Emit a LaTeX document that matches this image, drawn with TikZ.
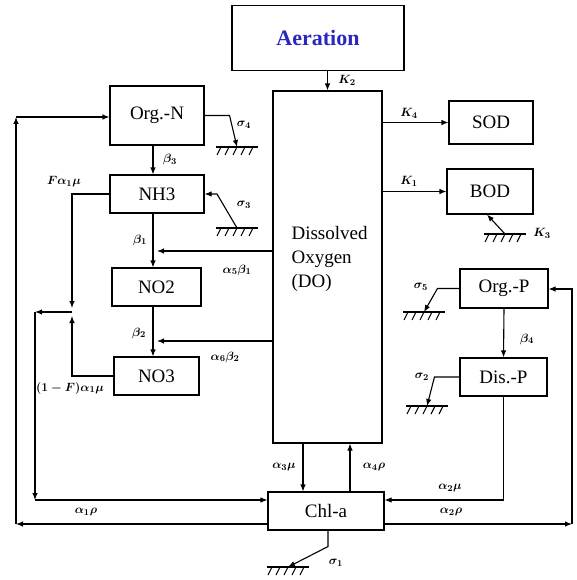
\documentclass[tikz,border=0pt]{standalone}
\usepackage{fontspec}
\setmainfont{Liberation Serif}
\usepackage{xcolor}
\usepackage{tikz}
\usetikzlibrary{
    positioning,
    arrows.meta
}

\definecolor{aerblue}{RGB}{40,40,190}

\begin{document}
\begin{tikzpicture}[
    x=1pt,
    y=-1pt,
    line width=1.1pt,
    box/.style={
        rectangle,
        draw,
        align=center,
        inner sep=0pt,
        font=\fontsize{19}{21}\selectfont
    },
    rate/.style={
        font=\boldmath\fontsize{13}{15}\selectfont,
        inner sep=0pt
    },
    arrow/.style={
        -{Latex[length=7pt,width=5.5pt]}
    },
    ground/.pic={
        \draw[line width=1.1pt] (-21,0) -- (21,0);
        \foreach \t in {-16,-8,0,8,16}
            \draw[line width=1.1pt] (\t,0) -- ++(-4,8);
    }
]

\useasboundingbox (0,0) rectangle (576,580);

% ============================================================
% OXYGEN
% ============================================================

\node[box, minimum width=172, minimum height=65,
      font=\bfseries\fontsize{22}{24}\selectfont, text=aerblue]
      (aeration) at (318,38) {Aeration};

\node[box, minimum width=109, minimum height=352] (do) at (327.5,267) {};

\node[align=left, font=\fontsize{19}{24}\selectfont,
      anchor=north west, inner sep=0pt] (dotext) at (291,226)
{
Dissolved\\
Oxygen\\
(DO)
};

\node[box, minimum width=84, minimum height=43] (sod) at (491,122.5) {SOD};
\node[box, minimum width=86, minimum height=45] (bod) at (490,191.5) {BOD};

% ============================================================
% NITROGEN
% ============================================================

\node[box, minimum width=94, minimum height=59] (orgn) at (157,115.5) {Org.-N};
\node[box, minimum width=94, minimum height=38] (nh3) at (157,194) {NH3};
\node[box, minimum width=89, minimum height=38] (no2) at (156.5,287) {NO2};
\node[box, minimum width=85, minimum height=38] (no3) at (156.5,376) {NO3};

% ============================================================
% PHOSPHORUS
% ============================================================

\node[box, minimum width=88, minimum height=39] (orgp) at (504,288.5) {Org.-P};
\node[box, minimum width=87, minimum height=38] (disp) at (503.5,377) {Dis.-P};

% ============================================================
% ALGAE
% ============================================================

\node[box, minimum width=116, minimum height=38] (chla) at (326,511) {Chl-a};

% ============================================================
% HELPER POINTS
% ============================================================

\coordinate (jb1) at (153,251);
\coordinate (jb2) at (153,341);
\coordinate (jn) at (72,312);
\coordinate (ln) at (35,312);
\coordinate (lb) at (35,500);
\coordinate (ol) at (16,524);
\coordinate (ot) at (16,117);
\coordinate (orr) at (572,524);
\coordinate (ort) at (572,289);
\coordinate (pb) at (505,500);

\coordinate (g4) at (237,147);
\coordinate (g3) at (237,228);
\coordinate (gk) at (505,234);
\coordinate (g5) at (424,312);
\coordinate (g2) at (427,406);
\coordinate (g1) at (288,567);

\pic at (g4) {ground};
\pic at (g3) {ground};
\pic at (gk) {ground};
\pic at (g5) {ground};
\pic at (g2) {ground};
\pic at (g1) {ground};

% ============================================================
% CONNECTIONS
% ============================================================

\draw[arrow] (do.north |- aeration.south) -- (do.north);
\draw[arrow] (do.east |- sod) -- (sod.west);
\draw[arrow] (do.east |- bod) -- (bod.west);
\draw[arrow] (gk) -- ([xshift=-3pt]bod.south);

\draw[arrow] ([xshift=-4pt]orgn.south) -- ([xshift=-4pt]nh3.north);
\draw[arrow] ([xshift=-4pt]nh3.south) -- ([xshift=-3.5pt]no2.north);
\draw[arrow] ([xshift=-3.5pt]no2.south) -- ([xshift=-3.5pt]no3.north);
\draw[arrow] (do.west |- jb1) -- ([xshift=4pt]jb1);
\draw[arrow] (do.west |- jb2) -- ([xshift=4pt]jb2);

\draw[arrow] (orgn.east) -- ++(25,0) -- (g4);
\draw[arrow] (g3) -- ++(-20,-34) -- (nh3.east);

\draw[arrow] (nh3.west) -| ([yshift=4pt]jn);
\draw[arrow] (no3.west) -| ([yshift=-4pt]jn);
\draw[arrow] (jn) -- (ln);
\draw[arrow] (ln) -- (lb);
\draw[arrow] (lb) -- (chla.west |- lb);

\draw[arrow] (chla.west |- ol) -- (ol);
\draw[arrow] (ol) -- (ot);
\draw[arrow] (ot) -- (orgn.west |- ot);

\draw[arrow] (chla.east |- orr) -- (orr);
\draw[arrow] (orr) -- (ort) -- (orgp.east |- ort);

\draw[arrow] (orgp.south) -- (disp.north);
\draw[arrow] (orgp.west) -- ++(-22,0) -- (g5);
\draw[arrow] (disp.west) -- ++(-25,0) -- (g2);
\draw[arrow] (disp.south) |- (chla.east |- pb);

\draw[arrow] ([xshift=-23pt]chla.north |- do.south) -- ([xshift=-23pt]chla.north);
\draw[arrow] ([xshift=24pt]chla.north) -- ([xshift=24pt]chla.north |- do.south);
\draw[arrow] ([xshift=2pt]chla.south) -- ++(0,16) -- (g1);

% ============================================================
% RATE LABELS
% ============================================================

\node[rate] (lk2) at (347,80) {$K_2$};
\node[rate] (lk4) at (409,113) {$K_4$};
\node[rate] (lk1) at (409,181) {$K_1$};
\node[rate] (lk3) at (542,233) {$K_3$};

\node[rate] (ls4) at (244,125) {$\sigma_4$};
\node[rate] (ls3) at (244,205) {$\sigma_3$};
\node[rate] (ls5) at (421,287) {$\sigma_5$};
\node[rate] (ls2) at (422,377) {$\sigma_2$};
\node[rate] (ls1) at (336,563) {$\sigma_1$};

\node[rate] (lb3) at (170,160) {$\beta_3$};
\node[rate] (lb1) at (140,240) {$\beta_1$};
\node[rate] (lb2) at (139,333) {$\beta_2$};
\node[rate] (lb4) at (527,339) {$\beta_4$};
\node[rate] (la5) at (237,270) {$\alpha_5\beta_1$};
\node[rate] (la6) at (225,357) {$\alpha_6\beta_2$};

\node[rate] (lfn) at (64,182) {$F\alpha_1\mu$};
\node[rate] (lfm) at (70,388) {$(1-F)\alpha_1\mu$};

\node[rate] (la3) at (284,467) {$\alpha_3\mu$};
\node[rate] (la4) at (374,467) {$\alpha_4\rho$};
\node[rate] (lpm) at (450,488) {$\alpha_2\mu$};
\node[rate] (lnr) at (86,512) {$\alpha_1\rho$};
\node[rate] (lpr) at (451,512) {$\alpha_2\rho$};

\end{tikzpicture}
\end{document}
